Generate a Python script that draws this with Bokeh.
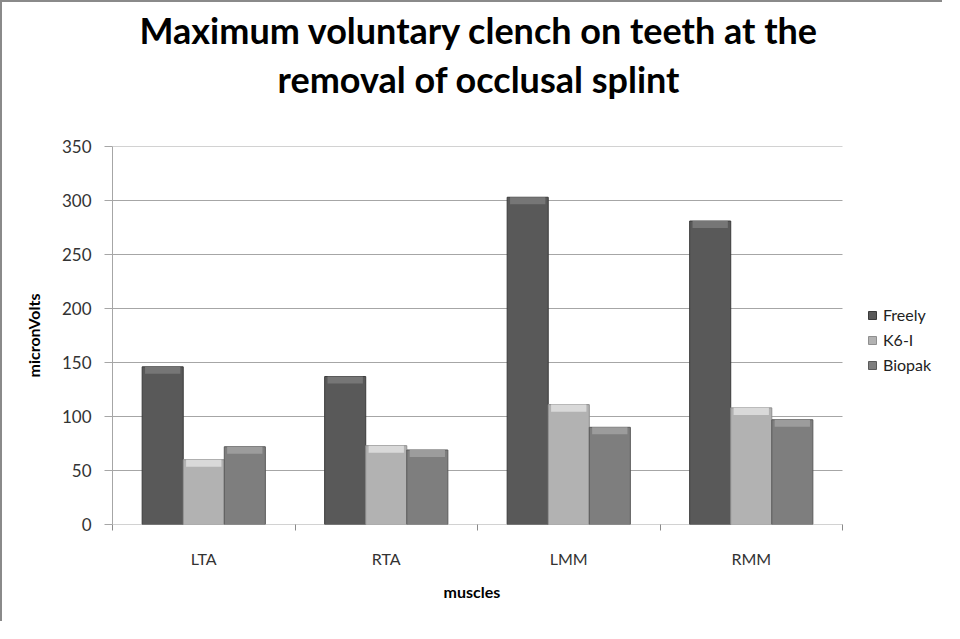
from bokeh.plotting import figure
from bokeh.models import (Range1d, FixedTicker, Title, Legend, LegendItem, ColumnDataSource)
from bokeh.embed import file_html
from bokeh.resources import INLINE

# ---- data ----
muscles = ["LTA", "RTA", "LMM", "RMM"]
series_names = ["Freely", "K6-I", "Biopak"]
freely = [146, 137, 303, 281]
k6i = [60, 73, 111, 108]
biopak = [72, 69, 90, 97]
y_ticks = [0, 50, 100, 150, 200, 250, 300, 350]
title_line1 = "Maximum voluntary clench on teeth at the"
title_line2 = "removal of occlusal splint"
x_title = "muscles"
y_title = "micronVolts"

# ---- styles ----
FONT = "Lato"
body_colors = ["#595959", "#b2b2b2", "#7e7e7e"]
top_colors = ["#767676", "#d9d9d9", "#9c9c9c"]
edge_colors = ["#3a3a3a", "#8f8f8f", "#5a5a5a"]
BW = 0.225
offsets = [-BW, 0.0, BW]

W, H = 942, 621
LEFT = 110
PX_PER_CAT = 182.5                     # plot area width per category
n = len(muscles)
x_end = (W - LEFT) / PX_PER_CAT        # frame runs to the right edge; the chart area is 0..n

p = figure(width=W, height=H, output_backend="svg", toolbar_location=None,
           x_range=Range1d(0, x_end), y_range=Range1d(0, 350),
           min_border_left=LEFT, min_border_right=0, min_border_bottom=99,
           min_border_top=10)
p.styles = {"border-left": "2px solid #8a8a8a", "border-top": "2px solid #8a8a8a"}
p.outline_line_color = None
p.background_fill_color = "white"
p.border_fill_color = "white"

def make_title(text, standoff, offset, size="36px"):
    return Title(text=text, align="left", offset=offset, text_font=FONT, text_font_size=size,
                 text_font_style="bold", text_color="#000000", standoff=standoff)

# first added sits nearest the plot
p.add_layout(make_title(" ", 0, 0), "above")          # spacer between title and plot
p.add_layout(make_title(title_line2, 0, 165), "above")
p.add_layout(make_title(title_line1, 6, 27), "above")

# horizontal gridlines over the category area only
p.segment(x0=[0] * len(y_ticks), x1=[n] * len(y_ticks), y0=y_ticks, y1=y_ticks,
          line_color="#a6a6a6", line_width=1, level="underlay")

series = [freely, k6i, biopak]
renderers = []
for i, vals in enumerate(series):
    xs = [j + 0.5 + offsets[i] for j in range(n)]
    src = ColumnDataSource(dict(x=xs, top=vals, btop=[v - 6.5 for v in vals], cat=muscles))
    r = p.vbar(x="x", top="top", bottom=0, width=BW, source=src,
               fill_color=body_colors[i], line_color=edge_colors[i], line_width=1)
    p.vbar(x="x", top="top", bottom="btop", width=BW * 0.86, source=src,
           fill_color=top_colors[i], line_color=None)
    renderers.append(r)

# y axis
yax = p.yaxis[0]
yax.ticker = FixedTicker(ticks=y_ticks)
yax.axis_label = y_title
yax.axis_label_text_font = FONT
yax.axis_label_text_font_size = "16px"
yax.axis_label_text_font_style = "bold"
yax.axis_label_text_color = "#000000"
yax.axis_label_standoff = 16
yax.major_label_text_font = FONT
yax.major_label_text_font_size = "17px"
yax.major_label_text_color = "#333333"
yax.major_label_standoff = 13
yax.axis_line_color = "#a6a6a6"
yax.major_tick_line_color = "#a6a6a6"
yax.major_tick_out = 8
yax.major_tick_in = 0
yax.minor_tick_line_color = None

# x axis: labels at category centres, ticks between categories
xax = p.xaxis[0]
centers = [j + 0.5 for j in range(n)]
xax.ticker = FixedTicker(ticks=centers, minor_ticks=list(range(n + 1)))
xax.major_label_overrides = {c: m for c, m in zip(centers, muscles)}
xax.major_tick_line_color = None
xax.major_tick_out = 0
xax.major_tick_in = 0
xax.minor_tick_line_color = "#8a8a8a"
xax.minor_tick_out = 6
xax.minor_tick_in = 0
xax.axis_line_color = None
xax.major_label_text_font = FONT
xax.major_label_text_font_size = "16px"
xax.major_label_text_color = "#333333"
xax.major_label_standoff = 18

# x axis title, centred under the category area
p.add_layout(make_title(x_title, 18, 331, size="16px"), "below")

p.xgrid.grid_line_color = None
p.ygrid.grid_line_color = None

legend = Legend(items=[LegendItem(label=nm, renderers=[r]) for nm, r in zip(series_names, renderers)],
                location=(755, 150))
legend.border_line_color = None
legend.background_fill_alpha = 0
legend.padding = 0
legend.margin = 0
legend.spacing = 6
legend.glyph_width = 10
legend.glyph_height = 10
legend.label_height = 14
legend.label_standoff = 6
legend.label_text_font = FONT
legend.label_text_font_size = "16px"
legend.label_text_color = "#222222"
p.add_layout(legend, "center")

open("out.html", "w").write(file_html(p, INLINE))
